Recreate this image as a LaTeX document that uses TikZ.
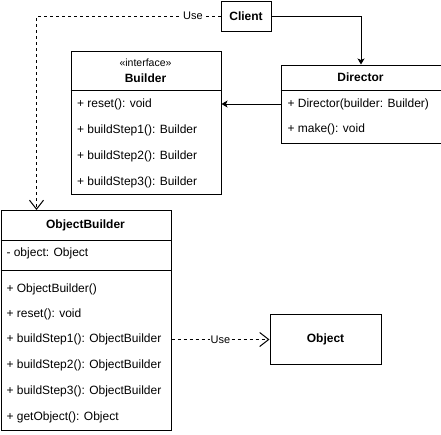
\documentclass[tikz,border=0pt]{standalone}
\usepackage{fontspec}
\setmainfont{Liberation Sans}
\usetikzlibrary{arrows.meta}
\begin{document}
\begin{tikzpicture}[x=1pt,y=-1pt,
  line width=1pt,
  box/.style={draw, rectangle, inner sep=0, anchor=north west},
  item/.style={anchor=west, inner sep=0, font=\fontsize{12}{14}\selectfont},
  ttl/.style={inner sep=0, font=\bfseries\fontsize{12}{14}\selectfont},
  small/.style={inner sep=0, font=\fontsize{10.5}{12}\selectfont},
  assoc/.style={draw, -{Stealth[length=6pt,width=7pt,inset=1.5pt]}},
  dep/.style={draw, dash pattern=on 3pt off 3pt, -{Straight Barb[length=9pt,width=14pt]}},
  lbl/.style={fill=white, inner sep=1pt, font=\fontsize{11}{13}\selectfont}]
\useasboundingbox (0,0) rectangle (441,434);

% Client
\node[box, minimum width=50pt, minimum height=30pt] (client) at (220.5,0.5) {};
\node[ttl] (clientt) at (client.center) {Client};

% Builder
\node[box, minimum width=150pt, minimum height=143.5pt] (builder) at (70.5,50.5) {};
\draw (70.5,90) -- (220.5,90);
\node[small] (bint) at (145.5,63) {«interface»};
\node[ttl] (bname) at (145.5,78) {Builder};
\node[item] (b0) at (76.5,104) {+ reset(): void};
\node[item] (b1) at (76.5,130) {+ buildStep1(): Builder};
\node[item] (b2) at (76.5,156) {+ buildStep2(): Builder};
\node[item] (b3) at (76.5,182) {+ buildStep3(): Builder};

% Director
\node[box, minimum width=160pt, minimum height=78pt] (director) at (280.5,64.5) {};
\draw (280.5,90) -- (440.5,90);
\node[ttl] (dname) at (360.5,77.5) {Director};
\node[item] (d0) at (287,104) {+ Director(builder: Builder)};
\node[item] (d1) at (287,129.5) {+ make(): void};

% ObjectBuilder
\node[box, minimum width=170pt, minimum height=220pt] (objb) at (0.5,210) {};
\draw (0.5,240.5) -- (170.5,240.5);
\draw (0.5,270.5) -- (170.5,270.5);
\node[ttl] (oname) at (85.5,225) {ObjectBuilder};
\node[item] (oa) at (6,253) {- object: Object};
\node[item] (o0) at (6,289) {+ ObjectBuilder()};
\node[item] (o1) at (6,314) {+ reset(): void};
\node[item] (o2) at (6,339.5) {+ buildStep1(): ObjectBuilder};
\node[item] (o3) at (6,365.5) {+ buildStep2(): ObjectBuilder};
\node[item] (o4) at (6,391.5) {+ buildStep3(): ObjectBuilder};
\node[item] (o5) at (6,417) {+ getObject(): Object};

% Object
\node[box, minimum width=111pt, minimum height=50pt] (object) at (269.5,314) {};
\node[ttl] (objectt) at (object.center) {Object};

% connectors
\coordinate (obtop) at (36.5,210);
\draw[assoc] (client.east) -| (director.north);
\draw[assoc] (director.west |- d0) -- (builder.east |- d0);
\draw[dep] (client.west) -| (obtop) node[lbl, pos=0.075] {Use};
\draw[dep] (objb.east |- object.west) -- (object.west) node[lbl, midway] {Use};
\end{tikzpicture}
\end{document}
